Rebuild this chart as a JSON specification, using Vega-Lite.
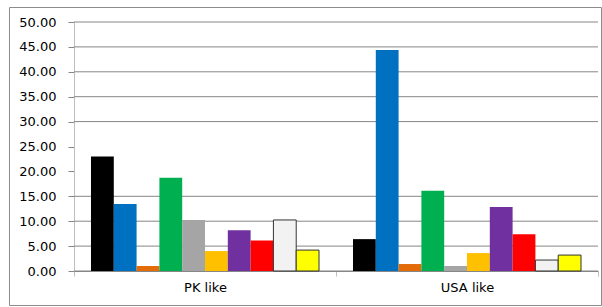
{
  "$schema": "https://vega.github.io/schema/vega-lite/v6.json",
  "width": 592,
  "height": 298,
  "autosize": {"type": "none"},
  "padding": {"left": 9, "top": 7, "right": 1, "bottom": 2},
  "background": "white",
  "config": {"view": {"stroke": "#8C8C8C", "strokeWidth": 1}, "font": "DejaVu Sans"},
  "datasets": {
    "bars": [
      {"group": "PK like", "series": "S1", "value": 23.0},
      {"group": "PK like", "series": "S2", "value": 13.45},
      {"group": "PK like", "series": "S3", "value": 1.0},
      {"group": "PK like", "series": "S4", "value": 18.7},
      {"group": "PK like", "series": "S5", "value": 10.25},
      {"group": "PK like", "series": "S6", "value": 4.0},
      {"group": "PK like", "series": "S7", "value": 8.2},
      {"group": "PK like", "series": "S8", "value": 6.1},
      {"group": "PK like", "series": "S9", "value": 10.25},
      {"group": "PK like", "series": "S10", "value": 4.2},
      {"group": "USA like", "series": "S1", "value": 6.4},
      {"group": "USA like", "series": "S2", "value": 44.4},
      {"group": "USA like", "series": "S3", "value": 1.4},
      {"group": "USA like", "series": "S4", "value": 16.1},
      {"group": "USA like", "series": "S5", "value": 1.0},
      {"group": "USA like", "series": "S6", "value": 3.6},
      {"group": "USA like", "series": "S7", "value": 12.85},
      {"group": "USA like", "series": "S8", "value": 7.4},
      {"group": "USA like", "series": "S9", "value": 2.2},
      {"group": "USA like", "series": "S10", "value": 3.2}
    ],
    "grid": [
      {"g": 0}, {"g": 5}, {"g": 10}, {"g": 15}, {"g": 30}, {"g": 35}, {"g": 40}, {"g": 45}, {"g": 50}
    ]
  },
  "resolve": {"axis": {"x": "independent", "y": "independent"}},
  "layer": [
    {
      "data": {"name": "grid"},
      "mark": {"type": "rule", "color": "#868686", "strokeWidth": 1},
      "encoding": {
        "x": {"datum": "PK like", "type": "nominal", "bandPosition": 0, "axis": null},
        "x2": {"datum": "USA like", "bandPosition": 1},
        "y": {"field": "g", "type": "quantitative", "axis": null}
      }
    },
    {
      "data": {"name": "bars"},
      "mark": {"type": "bar", "stroke": "#333333"},
      "encoding": {
        "x": {
          "field": "group", "type": "nominal", "sort": ["PK like", "USA like"],
          "scale": {"domain": ["PK like", "USA like"], "range": [65, 589], "paddingInner": 0, "paddingOuter": 0},
          "axis": {"title": null, "labelAngle": 0, "offset": -34, "domainColor": "#868686", "tickColor": "#BFBFBF", "tickBand": "extent", "tickSize": 5, "labelFontSize": 13, "labelColor": "#000000", "labelPadding": 5, "grid": false}
        },
        "xOffset": {
          "field": "series", "type": "nominal",
          "sort": ["S1", "S2", "S3", "S4", "S5", "S6", "S7", "S8", "S9", "S10"],
          "scale": {"paddingInner": 0, "paddingOuter": 0.745}
        },
        "y": {
          "field": "value", "type": "quantitative",
          "scale": {"domain": [0, 50], "range": [264, 15], "nice": false, "zero": true},
          "axis": {
            "title": null, "values": [0, 5, 10, 15, 20, 25, 30, 35, 40, 45, 50], "format": ".2f", "offset": -65,
            "domainColor": "#BFBFBF", "grid": false, "ticks": true, "tickColor": "#868686", "tickSize": 6,
            "labelFontSize": 13, "labelPadding": 12, "labelColor": "#000000"
          }
        },
        "color": {
          "field": "series", "type": "nominal", "legend": null,
          "scale": {
            "domain": ["S1", "S2", "S3", "S4", "S5", "S6", "S7", "S8", "S9", "S10"],
            "range": ["#000000", "#0070C0", "#E36C09", "#00B050", "#A5A5A5", "#FFC000", "#7030A0", "#FF0000", "#F2F2F2", "#FFFF00"]
          }
        },
        "strokeWidth": {"condition": {"test": "datum.series == 'S9' || datum.series == 'S10'", "value": 1}, "value": 0}
      }
    }
  ]
}
